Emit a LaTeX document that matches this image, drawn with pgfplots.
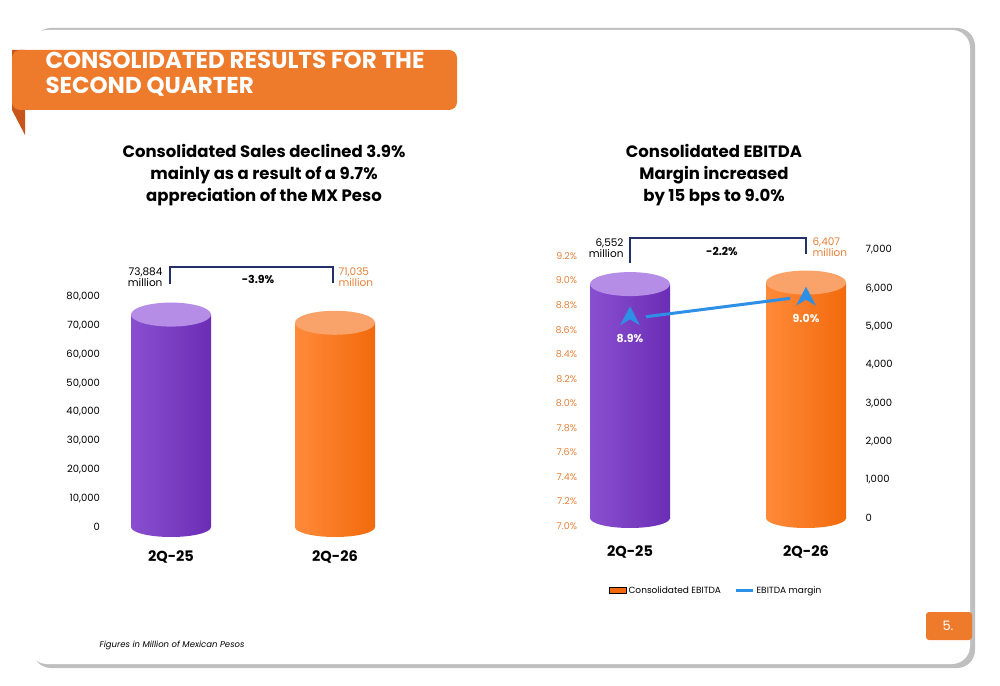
\documentclass[border=0pt]{standalone}
\usepackage{pgfplots}
\pgfplotsset{compat=1.18}
\usepackage{fontspec}
\setmainfont{Poppins}
\definecolor{purp}{HTML}{6A2DB5}
\definecolor{purpL}{HTML}{8A4FD0}
\definecolor{purpTop}{HTML}{B58CE6}
\definecolor{orng}{HTML}{F26A0C}
\definecolor{orngL}{HTML}{FF8A3A}
\definecolor{orngTop}{HTML}{F9A36A}
\definecolor{titleO}{HTML}{EE7A2C}
\definecolor{titleD}{HTML}{C8561A}
\definecolor{navy}{HTML}{24306A}
\definecolor{blueL}{HTML}{2E8FE6}
\definecolor{txtO}{HTML}{E8823A}
\pgfdeclareplotmark{topP}{\fill[purpTop] (0pt,0pt) ellipse (40pt and 12pt);}
\pgfdeclareplotmark{botP}{\path[left color=purpL, right color=purp] (0pt,0pt) ellipse (40pt and 10pt);}
\pgfdeclareplotmark{topO}{\fill[orngTop] (0pt,0pt) ellipse (40pt and 12pt);}
\pgfdeclareplotmark{botO}{\path[left color=orngL, right color=orng] (0pt,0pt) ellipse (40pt and 10pt);}
\pgfdeclareplotmark{chev}{\fill[blueL] (-10pt,-8pt)--(0pt,11pt)--(10pt,-8pt)--(0pt,-2pt)--cycle;}
\pgfplotsset{nomk/.style={only marks, forget plot, draw=none, mark options={draw=none}}}
\begin{document}
\begin{tikzpicture}
\begin{scope}[x=1pt,y=1pt]
\fill[white] (0,0) rectangle (1000,685);
\fill[black!25, rounded corners=18pt] (33,17) rectangle (975,657);
\fill[white, rounded corners=18pt] (29,21) rectangle (970,655);
\fill[titleD] (12,635) -- (25,635) -- (25,550) -- (12,575) -- cycle;
\fill[titleO, rounded corners=8pt] (12,635) rectangle (457,575);
\node[anchor=north west, align=left, text=white, font=\fontsize{23}{25}\selectfont\bfseries] at (42,636) {CONSOLIDATED RESULTS FOR THE\\SECOND QUARTER};
\fill[titleO, rounded corners=3pt] (926,45) rectangle (972,73);
\node[text=white, font=\fontsize{13}{15}\selectfont] at (948,59) {5.};
\node[anchor=west, font=\fontsize{8.5}{10}\selectfont\itshape] at (96,40) {Figures in Million of Mexican Pesos};
\node[align=center, font=\fontsize{16.5}{22}\selectfont\bfseries] at (264,510) {Consolidated Sales declined 3.9\%\\mainly as a result of a 9.7\%\\appreciation of the MX Peso};
\node[align=center, font=\fontsize{16.5}{22}\selectfont\bfseries] at (714,510) {Consolidated EBITDA\\Margin increased\\by 15 bps to 9.0\%};
\end{scope}

% ---------- left chart
\begin{axis}[at={(105.4pt,158pt)}, anchor=south west, scale only axis,
  width=295.2pt, height=230pt, xmin=-0.4, xmax=1.4, ymin=0, ymax=80000,
  axis line style={draw=none}, clip=false, major tick length=0pt,
  ytick={0,10000,...,80000}, scaled y ticks=false,
  /pgf/number format/assume math mode=true,
  yticklabel style={font=\fontsize{10}{12}\selectfont, /pgf/number format/1000 sep={,}, xshift=-2pt},
  xtick={0,1}, xticklabels={2Q-25,2Q-26},
  xticklabel style={font=\fontsize{14.5}{16}\selectfont\bfseries, yshift=-20pt}]
\addplot[nomk, mark=botP] coordinates {(0,0)};
\addplot[nomk, mark=botO] coordinates {(1,0)};
\addplot[ybar, bar width=80pt, bar shift=0pt, draw=none, left color=purpL, right color=purp, forget plot] coordinates {(0,73884)};
\addplot[ybar, bar width=80pt, bar shift=0pt, draw=none, left color=orngL, right color=orng, forget plot] coordinates {(1,71035)};
\addplot[nomk, mark=topP] coordinates {(0,73884)};
\addplot[nomk, mark=topO] coordinates {(1,71035)};
\end{axis}

% ---------- right chart: percent axis
\begin{axis}[at={(582.5pt,159pt)}, anchor=south west, scale only axis,
  width=267.5pt, height=270pt, xmin=-0.27, xmax=1.25, ymin=7.0, ymax=9.2,
  axis line style={draw=none}, clip=false, major tick length=0pt, xtick=\empty,
  ytick={7.0,7.2,...,9.21},
  /pgf/number format/assume math mode=true,
  yticklabel={\pgfmathprintnumber[fixed, fixed zerofill, precision=1]{\tick}\%},
  yticklabel style={font=\fontsize{9.5}{11}\selectfont, text=txtO, xshift=-2pt}]
\end{axis}
\begin{axis}[at={(582.5pt,167pt)}, anchor=south west, scale only axis,
  width=267.5pt, height=268pt, xmin=-0.27, xmax=1.25, ymin=0, ymax=7000,
  axis line style={draw=none}, clip=false, major tick length=0pt,
  ytick={0,1000,...,7000}, scaled y ticks=false, yticklabel pos=right,
  /pgf/number format/assume math mode=true,
  yticklabel style={font=\fontsize{10}{12}\selectfont, /pgf/number format/1000 sep={,}, xshift=12pt},
  xtick={0,1}, xticklabels={2Q-25,2Q-26},
  xticklabel style={font=\fontsize{14.5}{16}\selectfont\bfseries, yshift=-24pt},
  legend columns=2,
  legend style={at={(0.5,0)}, anchor=north, yshift=-64pt, draw=none, fill=none,
    font=\fontsize{9}{11}\selectfont, /tikz/every even column/.append style={column sep=12pt}}]
\addplot[nomk, mark=botP] coordinates {(0,0)};
\addplot[nomk, mark=botO] coordinates {(1,0)};
\addplot[ybar, bar width=80pt, bar shift=0pt, draw=none, left color=purpL, right color=purp, forget plot] coordinates {(0,6110)};
\addplot[ybar, bar width=80pt, bar shift=0pt, draw=none, left color=orngL, right color=orng, forget plot] coordinates {(1,6150)};
\addplot[nomk, mark=topP] coordinates {(0,6110)};
\addplot[nomk, mark=topO] coordinates {(1,6150)};
\addlegendimage{area legend, fill=orng, draw=none}
\addlegendentry{Consolidated EBITDA}
\addlegendimage{line legend, blueL, line width=2.5pt}
\addlegendentry{EBITDA margin}
\end{axis}
\begin{axis}[at={(582.5pt,159pt)}, anchor=south west, scale only axis,
  width=267.5pt, height=270pt, xmin=-0.27, xmax=1.25, ymin=7.0, ymax=9.2,
  axis lines=none, clip=false]
\addplot[blueL, line width=3pt, forget plot] coordinates {(0.09,8.705) (0.91,8.855)};
\addplot[nomk, mark=chev] coordinates {(0,8.70) (1,8.86)};
\node[text=white, font=\fontsize{11}{13}\selectfont\bfseries] at (axis cs:0,8.53) {8.9\%};
\node[text=white, font=\fontsize{11}{13}\selectfont\bfseries] at (axis cs:1,8.69) {9.0\%};
\end{axis}

\begin{scope}[x=1pt,y=1pt]
\draw[navy, line width=1.5pt] (170,401) -- (170,418) -- (333,418) -- (333,402);
\node[anchor=east, align=right, font=\fontsize{10.5}{11}\selectfont] at (166,408) {73,884\\million};
\node[anchor=west, align=left, text=txtO, font=\fontsize{10.5}{11}\selectfont] at (335,408) {71,035\\million};
\node[font=\fontsize{11}{13}\selectfont\bfseries] at (258,406) {-3.9\%};
\draw[navy, line width=1.5pt] (630,422) -- (630,447) -- (806,447) -- (806,431);
\node[anchor=east, align=right, font=\fontsize{10.5}{11}\selectfont] at (627,437) {6,552\\million};
\node[anchor=west, align=left, text=txtO, font=\fontsize{10.5}{11}\selectfont] at (809,438) {6,407\\million};
\node[font=\fontsize{11}{13}\selectfont\bfseries] at (722,434) {-2.2\%};
\end{scope}
\end{tikzpicture}
\end{document}
